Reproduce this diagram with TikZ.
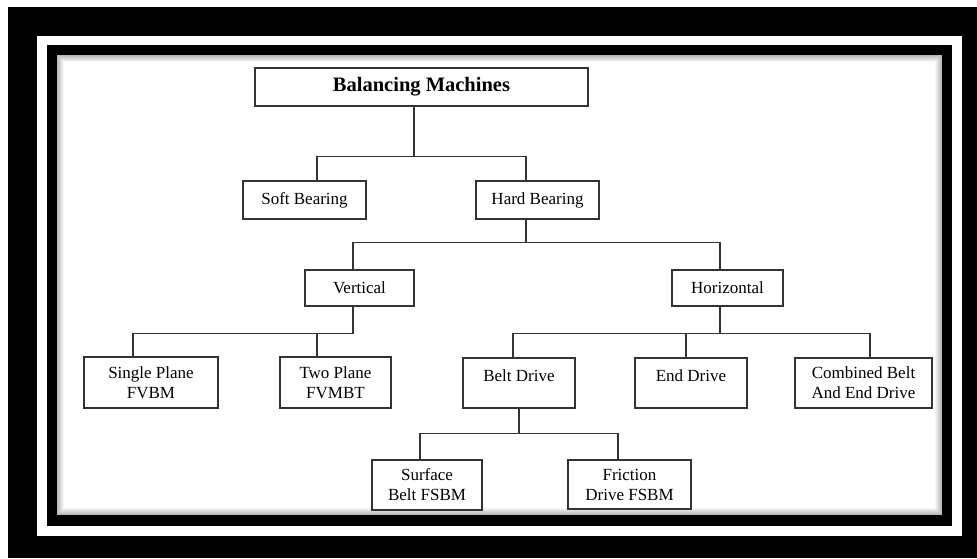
\documentclass[tikz,border=0pt]{standalone}
\usepackage{fontspec}
\setmainfont{Liberation Serif}
\tikzset{
  chartbox/.style={draw=black!80, line width=1.3pt, fill=white, inner sep=0pt,
    align=center, font=\fontsize{17}{20}\selectfont},
  link/.style={draw=black!80, line width=1.3pt}
}
\begin{document}
\begin{tikzpicture}[x=1pt, y=-1pt]
        \useasboundingbox (0,0) rectangle (977,558);
        % frame
        \fill [white] (0,0) rectangle (977,558);
        \fill [black] (8,7) rectangle (977,558);
        \fill [white] (37,36) rectangle (962,536);
        \fill [black] (47,45) rectangle (952,526);
        \foreach \i [evaluate=\i as \shade using int(28-4*\i)] in {0,...,6}
            \fill [black!\shade] (57+\i,55+\i) rectangle (942-\i,515-\i);
        \fill [white] (64,62) rectangle (935,508);

        % boxes
        \node [chartbox, minimum width=333, minimum height=38, font=\fontsize{20.5}{24}\selectfont\bfseries] (bm) at (421.5,87) {Balancing Machines};
        \node [chartbox, minimum width=123, minimum height=38] (soft) at (304.5,200) {Soft Bearing};
        \node [chartbox, minimum width=123, minimum height=38] (hard) at (537.5,200) {Hard Bearing};
        \node [chartbox, minimum width=109, minimum height=36] (vert) at (359.5,288) {Vertical};
        \node [chartbox, minimum width=111, minimum height=36] (horiz) at (727.5,288) {Horizontal};
        \node [chartbox, minimum width=134, minimum height=51] (single) at (151,382.5) {Single Plane\\FVBM};
        \node [chartbox, minimum width=111, minimum height=51] (two) at (335.5,382.5) {Two Plane\\FVMBT};
        \node [chartbox, minimum width=112, minimum height=50] (belt) at (519,383) {Belt Drive\\[-12pt]\strut};
        \node [chartbox, minimum width=112, minimum height=50] (end) at (691,383) {End Drive\\[-12pt]\strut};
        \node [chartbox, minimum width=137, minimum height=50] (comb) at (863.5,383) {Combined Belt\\And End Drive};
        \node [chartbox, minimum width=110, minimum height=50] (surf) at (427,485) {Surface\\Belt FSBM};
        \node [chartbox, minimum width=123, minimum height=49] (fric) at (629.5,484.5) {Friction\\Drive FSBM};

        % connectors
        \draw [link] ([xshift=-7.5]bm.south) -- ++(0,50) coordinate (bus1);
        \draw [link] (bus1) -| ([xshift=12.5]soft.north);
        \draw [link] (bus1) -| ([xshift=-11.5]hard.north);

        \draw [link] ([xshift=-11.5]hard.south) -- ++(0,23) coordinate (bus2);
        \draw [link] (bus2) -| ([xshift=-6.5]vert.north);
        \draw [link] (bus2) -| ([xshift=-7.5]horiz.north);

        \draw [link] ([xshift=-6.5]vert.south) -- ++(0,27) coordinate (bus3);
        \draw [link] (bus3) -| ([xshift=-18]single.north);
        \draw [link] (bus3) -| ([xshift=-18.5]two.north);

        \draw [link] ([xshift=-7.5]horiz.south) -- ++(0,27) coordinate (bus4);
        \draw [link] (bus4) -| ([xshift=-6]belt.north);
        \draw [link] (bus4) -| ([xshift=-5]end.north);
        \draw [link] (bus4) -| ([xshift=6.5]comb.north);

        \draw [link] (belt.south) -- ++(0,25) coordinate (bus5);
        \draw [link] (bus5) -| ([xshift=-7]surf.north);
        \draw [link] (bus5) -| ([xshift=-11.5]fric.north);
\end{tikzpicture}
\end{document}
